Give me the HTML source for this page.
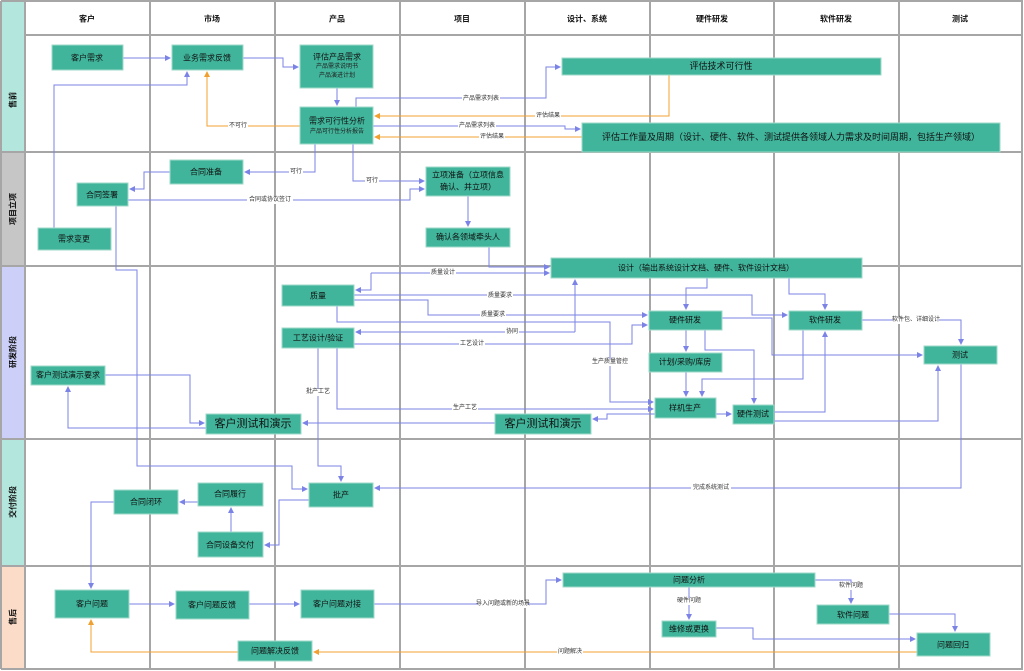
<!DOCTYPE html>
<html><head><meta charset="utf-8">
<style>
html,body{margin:0;padding:0;background:#fff;}
svg{display:block;font-family:"Liberation Sans","Noto Sans CJK SC",sans-serif;}
.n{fill:#40b59b;stroke:#9fd9c9;stroke-width:1}
.t{font-size:8px;fill:#111;text-anchor:middle;dominant-baseline:central}
.tb{font-size:11px;fill:#111;text-anchor:middle;dominant-baseline:central}
.ts{font-size:6px;fill:#222;text-anchor:middle;dominant-baseline:central}
.l{font-size:6px;fill:#333;text-anchor:middle;dominant-baseline:central}
.b{fill:none;stroke:#7b83e6;stroke-width:1}
.o{fill:none;stroke:#f0a030;stroke-width:1}
.g{stroke:#a6a6a6;stroke-width:2}
.h{font-size:8px;font-weight:bold;fill:#111;text-anchor:middle;dominant-baseline:central}
</style></head><body>
<svg width="1024" height="671" viewBox="0 0 1024 671" xmlns="http://www.w3.org/2000/svg">
<defs>
<marker id="ab" markerWidth="6" markerHeight="6" refX="5" refY="3" orient="auto" markerUnits="userSpaceOnUse"><path d="M0,0 L6,3 L0,6z" fill="#7b83e6"/></marker>
<marker id="ao" markerWidth="6" markerHeight="6" refX="5" refY="3" orient="auto" markerUnits="userSpaceOnUse"><path d="M0,0 L6,3 L0,6z" fill="#f0a030"/></marker>
</defs>
<!-- lane labels -->
<rect x="1" y="1" width="24" height="151" fill="#b3e6dc"/>
<rect x="1" y="152" width="24" height="114" fill="#c6c6c6"/>
<rect x="1" y="266" width="24" height="173" fill="#ccd0f8"/>
<rect x="1" y="439" width="24" height="127" fill="#b3e6dc"/>
<rect x="1" y="566" width="24" height="102" fill="#fbdcc8"/>
<g class="h">
<text transform="translate(13,100) rotate(-90)">售前</text>
<text transform="translate(13,209) rotate(-90)">项目立项</text>
<text transform="translate(13,352) rotate(-90)">研发阶段</text>
<text transform="translate(13,502) rotate(-90)">交付阶段</text>
<text transform="translate(13,617) rotate(-90)">售后</text>
</g>
<!-- grid -->
<g class="g">
<line x1="1" y1="1" x2="1023" y2="1"/>
<line x1="25" y1="35" x2="1023" y2="35"/>
<line x1="1" y1="152" x2="1023" y2="152"/>
<line x1="1" y1="266" x2="1023" y2="266"/>
<line x1="1" y1="439" x2="1023" y2="439"/>
<line x1="1" y1="566" x2="1023" y2="566"/>
<line x1="1" y1="669" x2="1023" y2="669"/>
<line x1="1" y1="1" x2="1" y2="669"/>
<line x1="25" y1="1" x2="25" y2="669"/>
<line x1="150" y1="1" x2="150" y2="669"/>
<line x1="275" y1="1" x2="275" y2="669"/>
<line x1="400" y1="1" x2="400" y2="669"/>
<line x1="525" y1="1" x2="525" y2="669"/>
<line x1="650" y1="1" x2="650" y2="669"/>
<line x1="774" y1="1" x2="774" y2="669"/>
<line x1="899" y1="1" x2="899" y2="669"/>
<line x1="1022" y1="1" x2="1022" y2="669"/>
</g>
<g class="h">
<text x="87" y="19">客户</text><text x="212" y="19">市场</text><text x="337" y="19">产品</text><text x="462" y="19">项目</text>
<text x="587" y="19">设计、系统</text><text x="712" y="19">硬件研发</text><text x="836" y="19">软件研发</text><text x="960" y="19">测试</text>
</g>
<!-- edges blue -->
<g class="b" marker-end="url(#ab)">
<polyline points="123,58 170,58"/>
<polyline points="243,58 283,58 283,67 298,67"/>
<polyline points="337,88 337,105"/>
<polyline points="356,107 356,98 546,98 546,67 560,67"/>
<polyline points="373,126 565,126 565,129 580,129"/>
<polyline points="315,144 315,172 245,172"/>
<polyline points="353,144 353,181 424,181"/>
<polyline points="170,172 144,172 144,189 130,189"/>
<polyline points="128,200 410,200 410,189 424,189"/>
<polyline points="54,228 54,85 187,85 187,72"/>
<polyline points="468,196 468,226"/>
<polyline points="489,247 489,267 549,267"/>
<polyline points="116,206 116,270 137,270 137,466 292,466 292,489 307,489"/>
<polyline points="371,273 549,273"/>
<polyline points="371,273 371,290 356,290"/>
<polyline points="354,295 752,295 752,315 787,315"/>
<polyline points="354,300 428,300 428,315 647,315"/>
<polyline points="337,306 337,322 610,322 610,402 653,402"/>
<polyline points="575,332 356,332"/>
<polyline points="575,332 575,280"/>
<polyline points="354,344 632,344 632,325 647,325"/>
<polyline points="337,348 337,409 653,409"/>
<polyline points="318,348 318,466 341,466 341,481"/>
<polyline points="105,375 190,375 190,423 204,423"/>
<polyline points="206,428 68,428 68,387"/>
<polyline points="495,423 303,423"/>
<polyline points="655,414 607,414 607,419 593,419"/>
<polyline points="716,414 731,414"/>
<polyline points="707,278 707,288 686,288 686,309"/>
<polyline points="789,278 789,294 825,294 825,309"/>
<polyline points="686,330 686,351"/>
<polyline points="686,372 686,396"/>
<polyline points="705,330 705,350 754,350 754,403"/>
<polyline points="722,318 772,318 772,355 922,355"/>
<polyline points="803,330 803,379 702,379 702,396"/>
<polyline points="774,412 825,412 825,332"/>
<polyline points="774,421 938,421 938,366"/>
<polyline points="862,320 961,320 961,344"/>
<polyline points="961,364 961,488 375,488"/>
<polyline points="309,500 279,500 279,545 265,545"/>
<polyline points="231,532 231,508"/>
<polyline points="198,502 180,502"/>
<polyline points="114,502 91,502 91,588"/>
<polyline points="129,604 174,604"/>
<polyline points="249,604 299,604"/>
<polyline points="374,604 546,604 546,580 561,580"/>
<polyline points="689,587 689,619"/>
<polyline points="815,580 851,580 851,603"/>
<polyline points="716,628 753,628 753,639 915,639"/>
<polyline points="889,614 955,614 955,631"/>
</g>
<g class="o" marker-end="url(#ao)">
<polyline points="669,75 669,116 375,116"/>
<polyline points="582,137 375,137"/>
<polyline points="300,126 207,126 207,72"/>
<polyline points="917,652 314,652"/>
<polyline points="238,652 91,652 91,620"/>
</g>
<!-- edge labels -->
<g class="l">
<rect x="462" y="95" width="38" height="7" fill="#fff"/><text x="481" y="99">产品需求列表</text>
<rect x="535" y="113" width="26" height="7" fill="#fff"/><text x="548" y="116">评估结果</text>
<rect x="458" y="123" width="38" height="7" fill="#fff"/><text x="477" y="126">产品需求列表</text>
<rect x="479" y="134" width="26" height="7" fill="#fff"/><text x="492" y="137">评估结果</text>
<rect x="228" y="123" width="20" height="7" fill="#fff"/><text x="238" y="126">不可行</text>
<rect x="289" y="169" width="14" height="7" fill="#fff"/><text x="296" y="172">可行</text>
<rect x="365" y="178" width="14" height="7" fill="#fff"/><text x="372" y="181">可行</text>
<rect x="247" y="197" width="46" height="7" fill="#fff"/><text x="270" y="200">合同或协议签订</text>
<rect x="430" y="270" width="26" height="7" fill="#fff"/><text x="443" y="273">质量设计</text>
<rect x="487" y="292" width="26" height="7" fill="#fff"/><text x="500" y="296">质量要求</text>
<rect x="480" y="312" width="26" height="7" fill="#fff"/><text x="493" y="315">质量要求</text>
<rect x="505" y="329" width="14" height="7" fill="#fff"/><text x="512" y="332">协同</text>
<rect x="459" y="341" width="26" height="7" fill="#fff"/><text x="472" y="344">工艺设计</text>
<rect x="590" y="359" width="40" height="7" fill="#fff"/><text x="610" y="362">生产质量管控</text>
<rect x="452" y="405" width="26" height="7" fill="#fff"/><text x="465" y="408">生产工艺</text>
<rect x="305" y="389" width="26" height="7" fill="#fff"/><text x="318" y="392">批产工艺</text>
<rect x="893" y="317" width="46" height="7" fill="#fff"/><text x="916" y="320">软件包、详细设计</text>
<rect x="691" y="485" width="40" height="7" fill="#fff"/><text x="711" y="488">完成系统测试</text>
<rect x="478" y="601" width="50" height="7" fill="#fff"/><text x="503" y="604">导入问题或新的场景</text>
<rect x="676" y="598" width="26" height="7" fill="#fff"/><text x="689" y="601">硬件问题</text>
<rect x="838" y="583" width="26" height="7" fill="#fff"/><text x="851" y="586">软件问题</text>
<rect x="557" y="649" width="26" height="7" fill="#fff"/><text x="570" y="652">问题解决</text>
</g>
<!-- nodes -->
<g>
<rect class="n" x="52" y="45" width="71" height="25"/><text class="t" x="87" y="58">客户需求</text>
<rect class="n" x="172" y="45" width="71" height="25"/><text class="t" x="207" y="58">业务需求反馈</text>
<rect class="n" x="300" y="45" width="73" height="43"/><text class="t" x="337" y="57">评估产品需求</text><text class="ts" x="337" y="67">产品需求说明书</text><text class="ts" x="337" y="76">产品演进计划</text>
<rect class="n" x="300" y="107" width="73" height="37"/><text class="t" x="337" y="121">需求可行性分析</text><text class="ts" x="337" y="132">产品可行性分析报告</text>
<rect class="n" x="562" y="58" width="319" height="17"/><text class="t" x="721" y="66" style="font-size:9px">评估技术可行性</text>
<rect class="n" x="582" y="123" width="418" height="29"/><text class="t" x="791" y="137" style="font-size:9px">评估工作量及周期（设计、硬件、软件、测试提供各领域人力需求及时间周期，包括生产领域）</text>
<rect class="n" x="170" y="160" width="73" height="24"/><text class="t" x="206" y="172">合同准备</text>
<rect class="n" x="77" y="183" width="51" height="23"/><text class="t" x="102" y="195">合同签署</text>
<rect class="n" x="38" y="228" width="73" height="22"/><text class="t" x="74" y="239">需求变更</text>
<rect class="n" x="426" y="167" width="84" height="29"/><text class="t" x="468" y="175">立项准备（立项信息</text><text class="t" x="468" y="187">确认、并立项）</text>
<rect class="n" x="426" y="228" width="84" height="19"/><text class="t" x="468" y="237">确认各领域牵头人</text>
<rect class="n" x="551" y="258" width="311" height="20"/><text class="t" x="706" y="268">设计（输出系统设计文档、硬件、软件设计文档）</text>
<rect class="n" x="282" y="285" width="72" height="21"/><text class="t" x="318" y="296">质量</text>
<rect class="n" x="282" y="328" width="72" height="20"/><text class="t" x="318" y="338">工艺设计/验证</text>
<rect class="n" x="31" y="366" width="74" height="19"/><text class="t" x="68" y="375">客户测试演示要求</text>
<rect class="n" x="206" y="414" width="95" height="20"/><text class="tb" x="253" y="424">客户测试和演示</text>
<rect class="n" x="495" y="414" width="96" height="20"/><text class="tb" x="543" y="424">客户测试和演示</text>
<rect class="n" x="649" y="311" width="73" height="19"/><text class="t" x="685" y="320">硬件研发</text>
<rect class="n" x="789" y="311" width="73" height="19"/><text class="t" x="825" y="320">软件研发</text>
<rect class="n" x="924" y="346" width="73" height="18"/><text class="t" x="960" y="355">测试</text>
<rect class="n" x="649" y="353" width="73" height="19"/><text class="t" x="685" y="362">计划/采购/库房</text>
<rect class="n" x="655" y="398" width="61" height="20"/><text class="t" x="685" y="408">样机生产</text>
<rect class="n" x="733" y="405" width="41" height="19"/><text class="t" x="753" y="414">硬件测试</text>
<rect class="n" x="309" y="483" width="64" height="24"/><text class="t" x="341" y="495">批产</text>
<rect class="n" x="198" y="483" width="65" height="23"/><text class="t" x="230" y="494">合同履行</text>
<rect class="n" x="114" y="490" width="64" height="24"/><text class="t" x="146" y="502">合同闭环</text>
<rect class="n" x="198" y="532" width="65" height="25"/><text class="t" x="230" y="545">合同设备交付</text>
<rect class="n" x="55" y="590" width="74" height="28"/><text class="t" x="92" y="604">客户问题</text>
<rect class="n" x="176" y="591" width="73" height="28"/><text class="t" x="212" y="605">客户问题反馈</text>
<rect class="n" x="301" y="590" width="73" height="28"/><text class="t" x="337" y="604">客户问题对接</text>
<rect class="n" x="563" y="573" width="252" height="14"/><text class="t" x="689" y="580">问题分析</text>
<rect class="n" x="662" y="621" width="54" height="16"/><text class="t" x="689" y="629">维修或更换</text>
<rect class="n" x="817" y="605" width="72" height="19"/><text class="t" x="853" y="615">软件问题</text>
<rect class="n" x="917" y="633" width="73" height="23"/><text class="t" x="953" y="645">问题回归</text>
<rect class="n" x="238" y="641" width="74" height="20"/><text class="t" x="275" y="651">问题解决反馈</text>
</g>
</svg>
</body></html>
